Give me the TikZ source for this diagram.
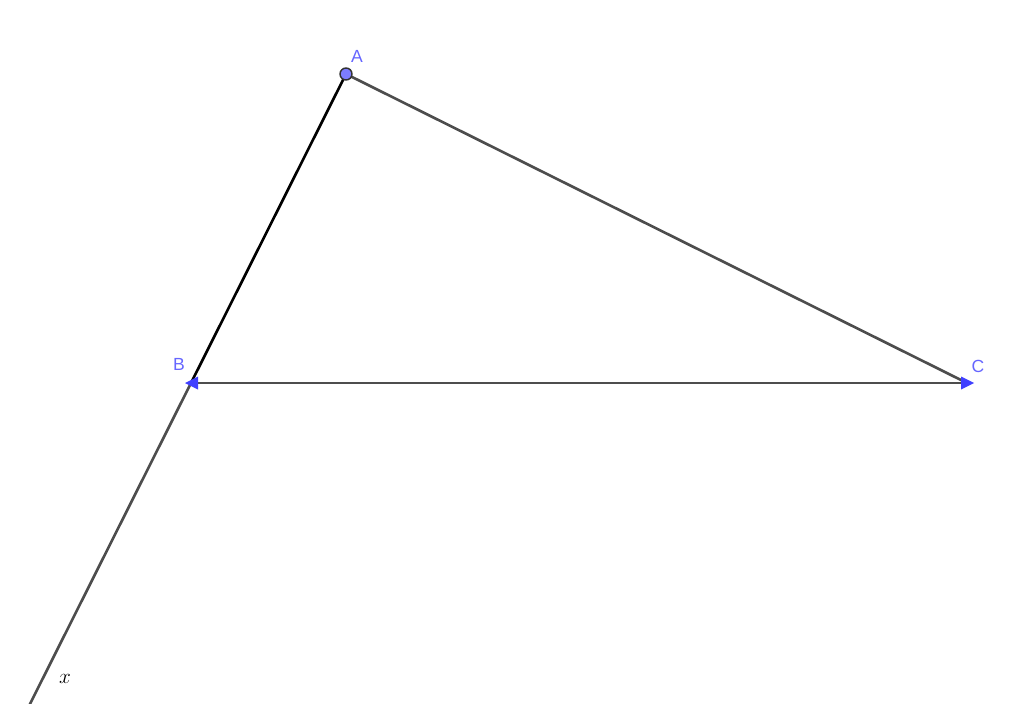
\documentclass[tikz,border=0pt]{standalone}
\usepackage{fontspec}
\setsansfont{Liberation Sans}
\usetikzlibrary{calc}
\definecolor{segGray}{RGB}{77,77,77}
\definecolor{ptBlue}{RGB}{64,64,255}
\definecolor{lblBlue}{RGB}{102,102,255}
\definecolor{ptFill}{RGB}{125,125,255}
\tikzset{
  seg/.style={segGray, line width=1.5pt},
  lbl/.style={lblBlue, font=\sffamily\normalsize, inner sep=0pt}
}
\begin{document}
\begin{tikzpicture}[x=0.02cm, y=-0.02cm]
    \useasboundingbox (0,0) rectangle (1024,703);

    \coordinate (A) at (346,74);
    \coordinate (B) at (191,383);
    \coordinate (C) at (967,383);
    \coordinate (end) at ($(A)!2.07!(B)$);

    % ray x through B
    \draw[seg] (B) -- (end);
    \draw[seg] (A) -- (C);
    \draw[seg] (B) -- (C);
    \draw[black, line width=1.5pt] (A) -- (B);

    % vector tips
    \fill[ptBlue] ($(B)+(-6,0)$) -- ($(B)+(7,-6.5)$) -- ($(B)+(7,6.5)$) -- cycle;
    \fill[ptBlue] ($(C)+(7,0)$) -- ($(C)+(-6,-6.5)$) -- ($(C)+(-6,6.5)$) -- cycle;
    \filldraw[fill=ptFill, draw=black!80, line width=0.8pt] (A) circle (6);

    \node[lbl] (labA) at (357,56) {A};
    \node[lbl] (labB) at (179,364) {B};
    \node[lbl] (labC) at (978,366) {C};
    \node[inner sep=0pt, font=\large] (labx) at (65,679) {$x$};
\end{tikzpicture}
\end{document}
